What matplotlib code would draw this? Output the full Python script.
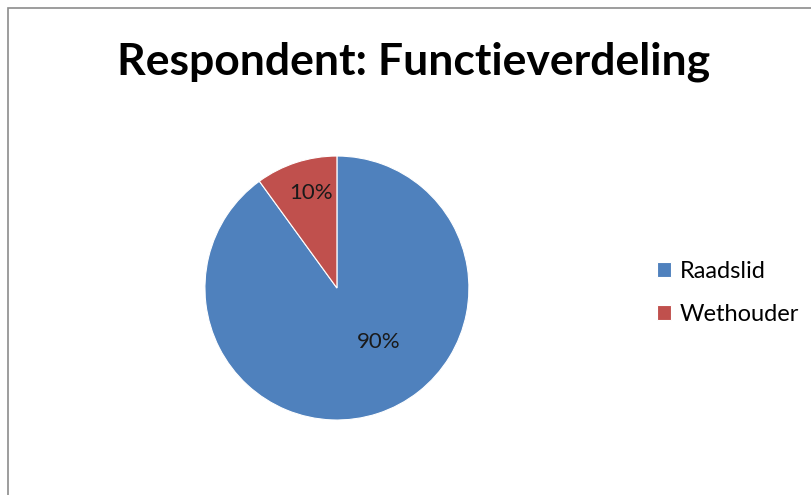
import matplotlib
matplotlib.use("Agg")
import matplotlib.pyplot as plt
from matplotlib.patches import Rectangle

# data
labels = ["Raadslid", "Wethouder"]
values = [90, 10]
colors = ["#4F81BD", "#C0504D"]
title = "Respondent: Functieverdeling"

plt.rcParams['font.family'] = ['Lato', 'DejaVu Sans']

fig = plt.figure(figsize=(8.11, 4.95), dpi=100)

# outer chart border (cut off at right and bottom like the screenshot)
fig.patches.append(Rectangle((8 / 811, -0.1), 1.2, 1.1 - 8 / 495,
                             transform=fig.transFigure, fill=False,
                             edgecolor="#8c8c8c", linewidth=1.2))

ax = fig.add_axes([0.2527, 0.1515, 0.3255, 0.5333])
wedges, _ = ax.pie(values, colors=colors, startangle=90, counterclock=False,
                   radius=1, wedgeprops=dict(edgecolor="white", linewidth=0.8))
ax.set_xlim(-1, 1)
ax.set_ylim(-1, 1)
ax.set_aspect("auto")

# percentage labels, placed where Excel put them
label_pos = [(0.32, -0.41), (-0.2, 0.72)]
for v, (x, y) in zip(values, label_pos):
    ax.text(x, y, f"{v}%", ha="center", va="center", fontsize=16, color="#1a1a1a")

fig.text(414 / 811, 1 - 62 / 495, title, ha="center", va="center",
         fontsize=32, fontweight="bold", color="black")

fig.legend(wedges, labels, loc="upper left", bbox_to_anchor=(657 / 811, 1 - 261 / 495),
           frameon=False, fontsize=17, handlelength=0.6, handleheight=0.6,
           handletextpad=0.35, labelspacing=0.92, borderaxespad=0, borderpad=0)

fig.savefig("out.png", dpi=100)
